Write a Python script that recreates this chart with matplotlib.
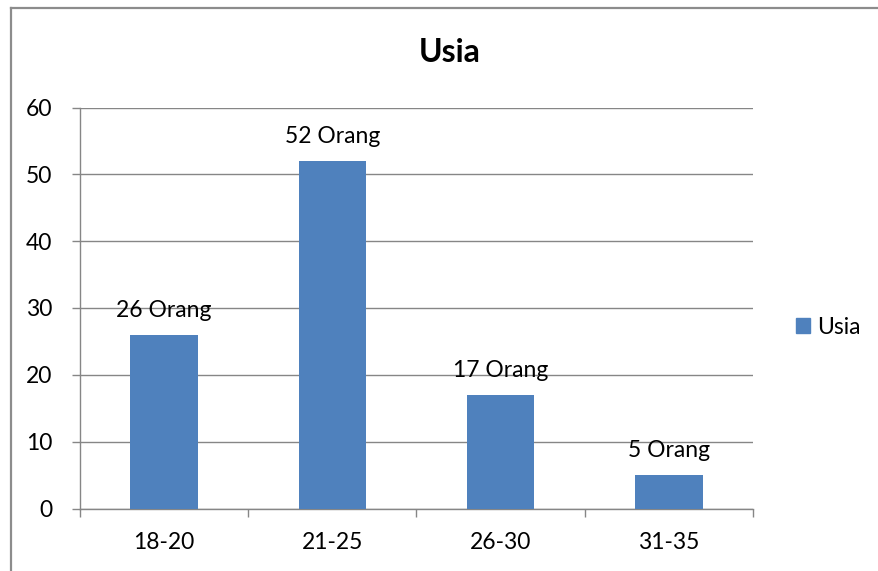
import matplotlib

matplotlib.use("Agg")
import matplotlib.pyplot as plt
from matplotlib.lines import Line2D
from matplotlib.patches import Patch

categories = ["18-20", "21-25", "26-30", "31-35"]
counts = [26, 52, 17, 5]
point_labels = ["26 Orang", "52 Orang", "17 Orang", "5 Orang"]
y_ticks = [0, 10, 20, 30, 40, 50, 60]
series_name = "Usia"
title = "Usia"

BAR_COLOR = "#4f81bd"
GRID_COLOR = "#868686"
W, H = 879, 571
FS = 16.5

plt.rcParams["font.family"] = ["Lato", "DejaVu Sans"]

fig = plt.figure(figsize=(W / 100, H / 100), dpi=100)

# chart frame (left and top edges only are in view)
fig.add_artist(Line2D([11.5 / W, 11.5 / W], [0, 1 - 7.5 / H], transform=fig.transFigure,
                      color="#8c8c8c", lw=1.6))
fig.add_artist(Line2D([11.5 / W, 1], [1 - 7.5 / H, 1 - 7.5 / H], transform=fig.transFigure,
                      color="#8c8c8c", lw=1.6))

left, right, top, bottom = 80, 753, 107.5, 508.5
ax = fig.add_axes([left / W, 1 - bottom / H, (right - left) / W, (bottom - top) / H])

x = list(range(len(categories)))
bars = ax.bar(x, counts, width=0.4, color=BAR_COLOR, zorder=3)

ax.set_xlim(-0.5, len(categories) - 0.5)
ax.set_ylim(0, 60)
ax.set_yticks(y_ticks)
ax.yaxis.grid(True, color=GRID_COLOR, lw=1.0, zorder=0)

for side in ("top", "right"):
    ax.spines[side].set_visible(False)
for side in ("left", "bottom"):
    ax.spines[side].set_color(GRID_COLOR)
    ax.spines[side].set_linewidth(1.0)

# category ticks sit on the boundaries between groups
ax.set_xticks([i - 0.5 for i in range(len(categories) + 1)])
ax.set_xticklabels([])
ax.set_xticks(x, minor=True)
ax.set_xticklabels(categories, minor=True, fontsize=FS)
ax.tick_params(axis="x", which="major", length=6, color=GRID_COLOR, width=1.0)
ax.tick_params(axis="x", which="minor", length=0, pad=17)
ax.tick_params(axis="y", length=6, color=GRID_COLOR, width=1.0, labelsize=FS, pad=14)

for b, txt in zip(bars, point_labels):
    ax.annotate(txt, (b.get_x() + b.get_width() / 2, b.get_height()),
                xytext=(0, 13), textcoords="offset points",
                ha="center", va="baseline", fontsize=FS)

fig.text(450 / W, 1 - 52 / H, title, ha="center", va="center",
         fontsize=23, fontweight="bold")

fig.legend(handles=[Patch(color=BAR_COLOR, label=series_name)],
           loc="center left", bbox_to_anchor=(785 / W, 1 - 327 / H),
           frameon=False, fontsize=FS, handlelength=0.6, handleheight=0.6,
           handletextpad=0.3, borderpad=0)

fig.savefig("out.png", dpi=100)
